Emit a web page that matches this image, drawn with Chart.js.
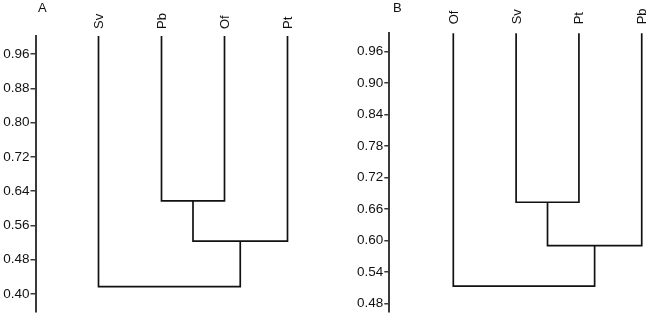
<!DOCTYPE html>
<html><head><meta charset="utf-8">
<script src="https://cdn.jsdelivr.net/npm/chart.js@4/dist/chart.umd.min.js"></script>
<style>
html,body{margin:0;padding:0;background:#fff;width:650px;height:321px;overflow:hidden;}
.panel{position:absolute;top:0;width:325px;height:321px;}
.lbl{position:absolute;top:0px;font:13px "Liberation Sans",Arial,sans-serif;color:#111;}
</style></head><body>
<div class="panel" style="left:0"><canvas id="cA" width="325" height="321"></canvas></div>
<div class="panel" style="left:325px"><canvas id="cB" width="325" height="321"></canvas></div>
<div class="lbl" style="left:38px">A</div>
<div class="lbl" style="left:393px">B</div>
<script>
// Panel A
const leavesA = ['Sv', 'Pb', 'Of', 'Pt'];
const mergePairsA = [[1, 2], [4, 3], [0, 5]];
const mergeHeightsA = [0.617, 0.523, 0.417];
const yTicksA = [0.40, 0.48, 0.56, 0.64, 0.72, 0.80, 0.88, 0.96];
const yRangeA = [0.358, 1.002];

// Panel B
const leavesB = ['Of', 'Sv', 'Pt', 'Pb'];
const mergePairsB = [[1, 2], [4, 3], [0, 5]];
const mergeHeightsB = [0.673, 0.5905, 0.513];
const yTicksB = [0.48, 0.54, 0.60, 0.66, 0.72, 0.78, 0.84, 0.90, 0.96];
const yRangeB = [0.464, 0.995];

const FONT = '"Liberation Sans", Arial, sans-serif';
const INK = '#111';
const AXIS = '#3a3a3a';

function buildLinks(leaves, pairs, heights, top) {
  const xs = leaves.map((_, i) => i + 1);
  const ys = leaves.map(() => top);
  const sets = [];
  pairs.forEach(([a, b], k) => {
    const h = heights[k];
    sets.push([{x: xs[a], y: ys[a]}, {x: xs[a], y: h}, {x: xs[b], y: h}, {x: xs[b], y: ys[b]}]);
    xs.push((xs[a] + xs[b]) / 2);
    ys.push(h);
  });
  return sets;
}

function makePanel(id, leaves, pairs, heights, yTicks, yRange, o) {
  const links = buildLinks(leaves, pairs, heights, yRange[1]);
  return new Chart(document.getElementById(id), {
    type: 'line',
    data: {
      datasets: links.map(pts => ({
        data: pts,
        borderColor: INK,
        borderWidth: 1.7,
        pointRadius: 0,
        fill: false,
        tension: 0,
        clip: false
      }))
    },
    options: {
      responsive: false,
      animation: false,
      devicePixelRatio: 1,
      layout: {padding: {left: 0, right: o.padRight, top: 0, bottom: o.padBottom}},
      plugins: {legend: {display: false}, tooltip: {enabled: false}, title: {display: false}},
      scales: {
        x: {
          type: 'linear',
          position: 'top',
          min: o.xMin,
          max: o.xMax,
          grid: {display: false, drawTicks: false},
          border: {display: false},
          afterBuildTicks: s => { s.ticks = leaves.map((_, i) => ({value: i + 1})); },
          afterFit: s => { s.height = o.top; s.paddingLeft = 0; s.paddingRight = 0; },
          ticks: {
            autoSkip: false,
            minRotation: 90,
            maxRotation: 90,
            padding: o.labelPad,
            labelOffset: 16.5,
            color: INK,
            font: {family: FONT, size: 13},
            callback: v => leaves[Math.round(v) - 1] || ''
          }
        },
        y: {
          type: 'linear',
          min: yRange[0],
          max: yRange[1],
          afterBuildTicks: s => { s.ticks = yTicks.map(v => ({value: v})); },
          afterFit: s => { s.width = o.yWidth; },
          grid: {drawOnChartArea: false, drawTicks: true, tickLength: 5, color: AXIS, lineWidth: 1.5},
          border: {display: true, color: AXIS, width: 2},
          ticks: {
            padding: 1,
            color: INK,
            font: {family: FONT, size: 13.5},
            callback: v => Number(v).toFixed(2)
          }
        }
      }
    }
  });
}

makePanel('cA', leavesA, mergePairsA, mergeHeightsA, yTicksA, yRangeA,
  {yWidth: 35.5, xMin: 0, xMax: 4.5, padRight: 6, padBottom: 6.7, top: 36, labelPad: 7});
makePanel('cB', leavesB, mergePairsB, mergeHeightsB, yTicksB, yRangeB,
  {yWidth: 64.3, xMin: -0.019, xMax: 4.068, padRight: 4, padBottom: 7.7, top: 33.3, labelPad: 9});
</script>
</body></html>
